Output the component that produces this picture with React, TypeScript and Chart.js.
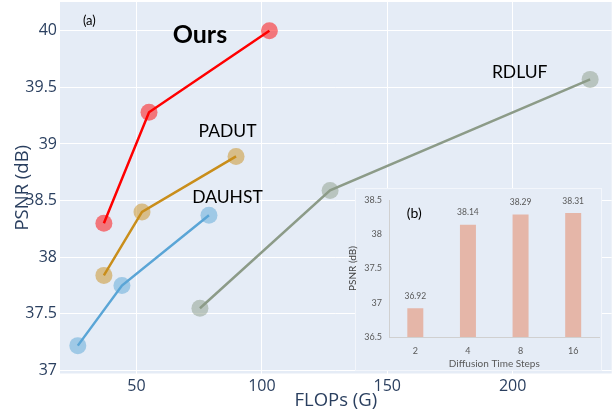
import React, { useEffect, useRef } from "react";
import { Chart, registerables } from "chart.js";

Chart.register(...registerables);

// ---- Main plot data (FLOPs in G, PSNR in dB) ----
const oursFlops = [37, 55, 103];
const oursPsnr = [38.3, 39.28, 40.0];
const padutFlops = [37, 52.2, 89.7];
const padutPsnr = [37.84, 38.4, 38.89];
const dauhstFlops = [26.6, 44.2, 78.9];
const dauhstPsnr = [37.22, 37.75, 38.37];
const rdlufFlops = [75.3, 127.2, 230.9];
const rdlufPsnr = [37.55, 38.59, 39.57];

const xTicks = [50, 100, 150, 200];
const yTicks = [37, 37.5, 38, 38.5, 39, 39.5, 40];

// ---- Inset (b) data ----
const stepLabels = ["2", "4", "8", "16"];
const stepPsnr = [36.92, 38.14, 38.29, 38.31];
const insetYTicks = [36.5, 37, 37.5, 38, 38.5];

const PLOT_BG = "#E5ECF6";
const AXIS_TEXT = "#2a3f5f";

const seriesStyle = [
  { name: "Ours", line: "#FF0000", marker: "rgba(255,0,0,0.5)" },
  { name: "PADUT", line: "#C98E1B", marker: "rgba(201,142,27,0.5)" },
  { name: "DAUHST", line: "#5AA5D6", marker: "rgba(90,165,214,0.5)" },
  { name: "RDLUF", line: "#8C9B88", marker: "rgba(140,155,136,0.5)" },
];
const seriesX = [oursFlops, padutFlops, dauhstFlops, rdlufFlops];
const seriesY = [oursPsnr, padutPsnr, dauhstPsnr, rdlufPsnr];

// text notes anchored in data coordinates
const notes = [
  { text: "Ours", x: 75.3, y: 39.96, font: "bold 25px Lato" },
  { text: "PADUT", x: 86.3, y: 39.11, font: "17.5px Lato" },
  { text: "DAUHST", x: 86.3, y: 38.53, font: "17.5px Lato" },
  { text: "RDLUF", x: 202.8, y: 39.63, font: "17.5px Lato" },
  { text: "(a)", x: 31.2, y: 40.085, font: "13px Lato" },
];

const fmt = (v: any) => `${Number(v)}`;

export default function App() {
  const mainRef = useRef<HTMLCanvasElement | null>(null);
  const insetRef = useRef<HTMLCanvasElement | null>(null);

  useEffect(() => {
    if (!mainRef.current || !insetRef.current) return;

    const bgPlugin = {
      id: "plotBg",
      beforeDraw(chart: any) {
        const { ctx, chartArea: a } = chart;
        ctx.save();
        ctx.fillStyle = PLOT_BG;
        ctx.fillRect(a.left, a.top, a.right - a.left, a.bottom - a.top);
        ctx.restore();
      },
    };

    const notePlugin = {
      id: "notes",
      afterDatasetsDraw(chart: any) {
        const { ctx, scales } = chart;
        ctx.save();
        ctx.fillStyle = "#000";
        ctx.textAlign = "center";
        ctx.textBaseline = "middle";
        for (const n of notes) {
          ctx.font = n.font;
          ctx.fillText(n.text, scales.x.getPixelForValue(n.x), scales.y.getPixelForValue(n.y));
        }
        ctx.restore();
      },
    };

    const zeroPad = (s: any) => {
      s.paddingTop = 0;
      s.paddingBottom = 0;
      s.paddingLeft = 0;
      s.paddingRight = 0;
    };

    const main = new Chart(mainRef.current, {
      type: "scatter",
      data: {
        datasets: seriesStyle.map((s, i) => ({
          label: s.name,
          data: seriesX[i].map((x, j) => ({ x, y: seriesY[i][j] })),
          showLine: true,
          borderColor: s.line,
          borderWidth: 2.5,
          backgroundColor: s.marker,
          pointBackgroundColor: s.marker,
          pointBorderWidth: 0,
          pointRadius: 8.5,
          pointHoverRadius: 8.5,
          order: 3 - i,
          clip: 10,
        })),
      },
      options: {
        animation: false,
        responsive: false,
        layout: { autoPadding: false, padding: { top: 2, right: 1.3, left: 0, bottom: 0 } },
        plugins: { legend: { display: false }, tooltip: { enabled: false } },
        scales: {
          x: {
            type: "linear",
            min: 19.5,
            max: 239.5,
            afterBuildTicks: (s: any) => {
              s.ticks = xTicks.map((v) => ({ value: v }));
            },
            afterFit: (s: any) => {
              s.height = 42.5;
              zeroPad(s);
            },
            grid: { color: "#ffffff", lineWidth: 1, drawTicks: false },
            border: { display: false },
            ticks: {
              font: { family: "'Open Sans'", size: 16 },
              color: AXIS_TEXT,
              padding: 3,
              maxRotation: 0,
              callback: fmt,
            },
            title: {
              display: true,
              text: "FLOPs (G)",
              font: { family: "'Open Sans'", size: 18.5 },
              color: AXIS_TEXT,
              padding: { top: 0, bottom: 4 },
            },
          },
          y: {
            type: "linear",
            min: 36.974,
            max: 40.253,
            afterBuildTicks: (s: any) => {
              s.ticks = yTicks.map((v) => ({ value: v }));
            },
            afterFit: (s: any) => {
              s.width = 60;
              zeroPad(s);
            },
            grid: { color: "#ffffff", lineWidth: 1, drawTicks: false },
            border: { display: false },
            ticks: {
              font: { family: "'Open Sans'", size: 16 },
              color: AXIS_TEXT,
              padding: 3,
              callback: fmt,
            },
            title: {
              display: true,
              text: "PSNR (dB)",
              font: { family: "'Open Sans'", size: 18.5 },
              color: AXIS_TEXT,
              padding: { top: 12, bottom: 0 },
            },
          },
        },
      },
      plugins: [bgPlugin, notePlugin],
    });

    const insetBg = {
      id: "insetBg",
      beforeDraw(chart: any) {
        const { ctx } = chart;
        ctx.save();
        ctx.fillStyle = PLOT_BG;
        ctx.fillRect(15, 3, 247, 183);
        ctx.strokeStyle = "rgba(255,255,255,0.55)";
        ctx.lineWidth = 1;
        ctx.strokeRect(15.5, 3.5, 246, 182);
        ctx.restore();
      },
    };

    const insetLabels = {
      id: "insetLabels",
      afterDatasetsDraw(chart: any) {
        const { ctx, scales } = chart;
        const meta = chart.getDatasetMeta(0);
        ctx.save();
        ctx.fillStyle = "#595959";
        ctx.textAlign = "center";
        ctx.textBaseline = "middle";
        ctx.font = "8.5px Lato";
        meta.data.forEach((el: any, i: number) => {
          ctx.fillText(stepPsnr[i].toFixed(2), el.x, el.y - 12);
        });
        ctx.fillStyle = "#000";
        ctx.font = "14px Lato";
        ctx.fillText("(b)", scales.x.getPixelForValue(0) - 1, scales.y.getPixelForValue(38.3));
        ctx.restore();
      },
    };

    const inset = new Chart(insetRef.current, {
      type: "bar",
      data: {
        labels: stepLabels,
        datasets: [
          {
            label: "PSNR",
            data: stepPsnr,
            backgroundColor: "#E5B6A8",
            borderWidth: 0,
            categoryPercentage: 1,
            barPercentage: 0.304,
          },
        ],
      },
      options: {
        animation: false,
        responsive: false,
        layout: { autoPadding: false, padding: { top: 15, right: 10.5, left: 0, bottom: 0 } },
        plugins: { legend: { display: false }, tooltip: { enabled: false } },
        scales: {
          x: {
            afterFit: (s: any) => {
              s.height = 38;
              zeroPad(s);
            },
            grid: { display: true, color: "rgba(0,0,0,0)", drawTicks: false, drawOnChartArea: false },
            border: { display: true, color: "#D0D0D0", width: 1 },
            ticks: { font: { family: "Lato", size: 9 }, color: "#595959", padding: 9, maxRotation: 0 },
            title: {
              display: true,
              text: "Diffusion Time Steps",
              font: { family: "Lato", size: 10 },
              color: "#595959",
              padding: { top: 0, bottom: 5 },
            },
          },
          y: {
            min: 36.5,
            max: 38.5,
            afterBuildTicks: (s: any) => {
              s.ticks = insetYTicks.map((v) => ({ value: v }));
            },
            afterFit: (s: any) => {
              s.width = 49;
              zeroPad(s);
            },
            grid: { display: true, color: "rgba(0,0,0,0)", drawTicks: false, drawOnChartArea: false },
            border: { display: true, color: "#D0D0D0", width: 1 },
            ticks: { font: { family: "Lato", size: 9 }, color: "#595959", padding: 7, callback: fmt },
            title: {
              display: true,
              text: "PSNR (dB)",
              font: { family: "Lato", size: 10 },
              color: "#404040",
              padding: { top: 7, bottom: 0 },
            },
          },
        },
      },
      plugins: [insetBg, insetLabels],
    });

    return () => {
      main.destroy();
      inset.destroy();
    };
  }, []);

  return (
    <div style={{ position: "fixed", left: 0, top: 0, width: 613, height: 416, background: "#fff" }}>
      <canvas
        ref={mainRef}
        width={613}
        height={416}
        style={{ position: "absolute", left: 0, top: 0, width: 613, height: 416 }}
      />
      <canvas
        ref={insetRef}
        width={270}
        height={190}
        style={{ position: "absolute", left: 340, top: 185, width: 270, height: 190 }}
      />
    </div>
  );
}
